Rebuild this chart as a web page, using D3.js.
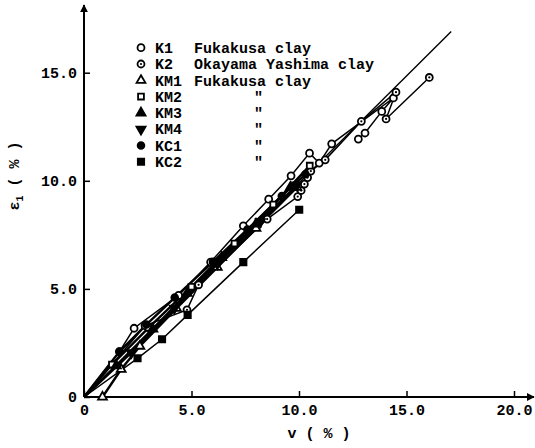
<!DOCTYPE html>
<html>
<head>
<meta charset="utf-8">
<script src="https://cdn.jsdelivr.net/npm/d3@7"></script>
<style>
  body { margin: 0; background: #fff; }
  text { font-family: "Liberation Mono", "DejaVu Sans Mono", monospace; font-weight: bold; fill: #000; }
</style>
</head>
<body>
<div id="chart"></div>
<script>
// data: [v (%), eps1 (%)]
const k1 = [[0,0],[1.65,2.1],[2.33,3.18],[4.4,4.7],[5.89,6.24],[7.41,7.92],[8.59,9.15],[9.63,10.23],[10.49,11.28],[10.94,10.82],[11.52,11.71],[14.39,13.83],[13.85,13.21],[13.07,12.21],[12.76,11.93]];
const k2 = [[0,0],[2.84,3.3],[4.79,4.03],[5.33,5.19],[8.52,8.23],[9.94,9.27],[10.1,9.55],[10.25,9.85],[10.4,10.15],[10.55,10.45],[11.22,10.97],[12.9,12.75],[14.51,14.1],[14.05,12.86],[16.06,14.78]];
const km1 = [[0.86,0],[1.73,1.28],[2.6,2.35],[4.3,4.1],[6.2,6.0],[8.0,7.8],[9.9,9.7]];
const km2 = [[0,0],[1.3,1.5],[3.0,3.2],[5.0,5.1],[7.0,7.1],[8.8,8.9],[10.5,10.7]];
const km3 = [[0,0],[1.5,1.45],[3.2,3.15],[4.8,4.8],[6.4,6.45],[8.0,8.0],[9.6,9.7]];
const km4 = [[0,0],[2.2,2.05],[4.2,4.1],[6.2,6.15],[8.2,8.1],[9.9,9.8]];
const kc1 = [[0,0],[1.65,2.1],[2.9,3.35],[4.22,4.6],[6.0,6.25],[7.6,7.75],[9.2,9.3],[10.3,10.3]];
const kc2 = [[0,0],[2.49,1.79],[3.63,2.67],[4.82,3.80],[7.41,6.24],[10.01,8.66]];
const refLine = [[0,0],[17.08,16.91]];

const seriesNames = ["K1","K2","KM1","KM2","KM3","KM4","KC1","KC2"];
const seriesClay = ["Fukakusa clay","Okayama Yashima clay","Fukakusa clay","\"","\"","\"","\"","\""];
const xTicks = [0,5,10,15,20];
const yTicks = [0,5,10,15];

const width = 535, height = 448;

const svg = d3.select("#chart").append("svg")
  .attr("width", width).attr("height", height);

const x = d3.scaleLinear().domain([0, 20]).range([84, 514]);
const y = d3.scaleLinear().domain([0, 15]).range([397, 72.7]);

// marker styles per series (band = lines drawn heavier, they merge into the dark band)
const markers = {
  K1: {type: d3.symbolCircle, fill: "#fff", size: 38},
  K2: {type: d3.symbolCircle, fill: "#fff", size: 38, dot: true},
  KM1: {type: d3.symbolTriangle, fill: "#fff", size: 34, band: true},
  KM2: {type: d3.symbolSquare, fill: "#fff", size: 34, band: true},
  KM3: {type: d3.symbolTriangle, fill: "#000", size: 36, band: true},
  KM4: {type: d3.symbolTriangle, fill: "#000", size: 36, rot: 180, band: true},
  KC1: {type: d3.symbolCircle, fill: "#000", size: 36, band: true},
  KC2: {type: d3.symbolSquare, fill: "#000", size: 40}
};
const allSeries = [k1, k2, km1, km2, km3, km4, kc1, kc2];

// axes lines with arrows
svg.append("defs").append("marker")
  .attr("id", "arrow").attr("viewBox", "0 0 10 10")
  .attr("refX", 9).attr("refY", 5)
  .attr("markerWidth", 4).attr("markerHeight", 5)
  .attr("orient", "auto")
  .append("path").attr("d", "M0,0 L10,5 L0,10 Z").attr("fill", "#000");

svg.append("line")
  .attr("x1", x(0)).attr("y1", y(0)).attr("x2", x(0)).attr("y2", 5)
  .attr("stroke", "#000").attr("stroke-width", 2).attr("marker-end", "url(#arrow)");
svg.append("line")
  .attr("x1", x(0)).attr("y1", y(0)).attr("x2", 534).attr("y2", y(0))
  .attr("stroke", "#000").attr("stroke-width", 2).attr("marker-end", "url(#arrow)");

const fmt = d => d === 0 ? "0" : d.toFixed(1);

const xAxis = svg.append("g")
  .attr("transform", `translate(0,${y(0)})`)
  .call(d3.axisBottom(x).tickValues(xTicks).tickSize(-6).tickPadding(4).tickFormat(fmt));
const yAxis = svg.append("g")
  .attr("transform", `translate(${x(0)},0)`)
  .call(d3.axisLeft(y).tickValues(yTicks).tickSize(-6).tickPadding(7).tickFormat(fmt));
[xAxis, yAxis].forEach(g => {
  g.select(".domain").remove();
  g.selectAll(".tick line").attr("stroke", "#000").attr("stroke-width", 1.5);
  g.selectAll(".tick text").style("font-size", "15px").attr("fill", "#000");
});
xAxis.selectAll(".tick text").attr("dy", "0.9em");

// axis titles
svg.append("text")
  .attr("x", 319).attr("y", 438).attr("text-anchor", "middle")
  .style("font-size", "15px").text("v ( % )");
const yt = svg.append("text")
  .attr("transform", "translate(19,176) rotate(-90)")
  .attr("text-anchor", "middle").style("font-size", "15px");
yt.append("tspan").text("\u03b5");
yt.append("tspan").attr("dy", 4).style("font-size", "10px").text("1");
yt.append("tspan").attr("dy", -4).text(" ( % )");

// reference line
const line = d3.line().x(d => x(d[0])).y(d => y(d[1]));
svg.append("path").attr("d", line(refLine))
  .attr("fill", "none").attr("stroke", "#000").attr("stroke-width", 1.4);

// series lines
allSeries.forEach((s, i) => {
  svg.append("path").attr("d", line(s))
    .attr("fill", "none").attr("stroke", "#000")
    .attr("stroke-width", markers[seriesNames[i]].band ? 2.4 : 1.5);
});

function drawMarker(g, name, cx, cy, scale) {
  const m = markers[name];
  const sym = d3.symbol().type(m.type).size(m.size * (scale || 1));
  g.append("path").attr("d", sym())
    .attr("transform", `translate(${cx},${cy}) rotate(${m.rot || 0})`)
    .attr("fill", m.fill).attr("stroke", "#000").attr("stroke-width", 1.8);
  if (m.dot) {
    g.append("circle").attr("cx", cx).attr("cy", cy).attr("r", 1.1).attr("fill", "#000");
  }
}

// series markers
allSeries.forEach((s, i) => {
  const g = svg.append("g");
  s.forEach(d => {
    if (d[0] === 0 && d[1] === 0) return;
    drawMarker(g, seriesNames[i], x(d[0]), y(d[1]));
  });
});

// legend
const legend = svg.append("g");
seriesNames.forEach((name, i) => {
  const ly = 47.7 + i * 16.3;
  drawMarker(legend, name, 141, ly, 1.0);
  legend.append("text").attr("x", 155).attr("y", ly).attr("dy", "0.35em")
    .style("font-size", "15px").text(name);
  legend.append("text")
    .attr("x", seriesClay[i] === "\"" ? 254 : 194).attr("y", ly).attr("dy", "0.35em")
    .style("font-size", "15px").text(seriesClay[i]);
});
</script>
</body>
</html>
